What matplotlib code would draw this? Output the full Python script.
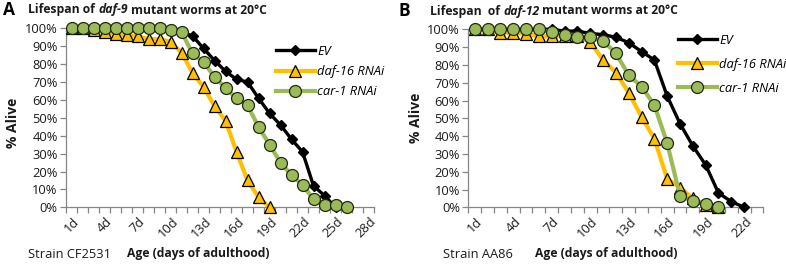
import numpy as np
import matplotlib
matplotlib.use("Agg")
import matplotlib.pyplot as plt
from matplotlib.lines import Line2D

FONT = "Open Sans"
plt.rcParams['font.family'] = [FONT, 'DejaVu Sans']

# ---------------- data ----------------
ev_a = [100, 100, 100, 100, 100, 100, 100, 100, 100, 99, 98, 95.7, 88.8, 82, 76, 71.5, 70, 61,
        52.5, 46, 38, 31, 12, 6.5, 0]
daf16_a = [100, 100, 99, 97.8, 96.8, 96, 95.7, 93.9, 94, 92.5, 86.4, 75.2, 67.2, 56.6, 48.4, 31,
           15, 5.6, 0]
car1_a = [100, 100, 100, 100, 100, 100, 100, 100, 100, 99, 98, 86, 81, 73, 66.5, 61, 57, 45, 35,
          25, 18, 12.5, 4.5, 1.5, 1.5, 0]

ev_b = [100, 100, 100, 100, 100, 100, 100, 99, 99, 97.7, 97, 95.5, 92.5, 87.5, 82.8, 62.5, 47,
        34.5, 23.8, 8, 3.2, 0]
daf16_b = [100, 100, 98, 98, 97.5, 96, 96, 96, 96, 93, 82.8, 75.7, 64.4, 50.9, 38.5, 16, 11, 5,
           1.5, 0]
car1_b = [100, 100, 100, 100, 100, 100, 98.3, 96.8, 95.5, 95.5, 93.6, 86.5, 74.3, 67.8, 57.5, 36,
          6.5, 3.5, 2, 0]

n_cat_a = 28
n_cat_b = 23
label_days_a = [1, 4, 7, 10, 13, 16, 19, 22, 25, 28]
label_days_b = [1, 4, 7, 10, 13, 16, 19, 22]
y_ticks = [0, 10, 20, 30, 40, 50, 60, 70, 80, 90, 100]
series_names = ["EV", "daf-16 RNAi", "car-1 RNAi"]

# ---------------- style ----------------
W, H = 786, 265
C_EV = "#000000"
C_DAF_LINE = "#FFC000"
C_DAF_FILL = "#FFC000"
C_CAR_LINE = "#9BBB59"
C_CAR_FILL = "#9BBB59"
AX_COL = "#868686"
TXT = "#1a1a1a"

fig = plt.figure(figsize=(W / 100, H / 100), dpi=100)


def px_axes(l, t, r, b):
    return fig.add_axes([l / W, 1 - b / H, (r - l) / W, (b - t) / H])


def draw_panel(ax, ev, daf, car, ncat, label_days):
    ax.set_xlim(0.5, ncat + 0.5)
    ax.set_ylim(0, 100)
    x_ev = np.arange(1, len(ev) + 1)
    x_daf = np.arange(1, len(daf) + 1)
    x_car = np.arange(1, len(car) + 1)
    ax.plot(x_ev, ev, color=C_EV, lw=2.4, marker='D', ms=5.4, mfc=C_EV, mec=C_EV,
            clip_on=False, zorder=3)
    ax.plot(x_daf, daf, color=C_DAF_LINE, lw=3.0, marker='^', ms=8.5, mfc=C_DAF_FILL,
            mec='black', mew=0.9, clip_on=False, zorder=4)
    ax.plot(x_car, car, color=C_CAR_LINE, lw=3.0, marker='o', ms=8.6, mfc=C_CAR_FILL,
            mec='#1f2a10', mew=0.9, clip_on=False, zorder=5)
    for s in ['top', 'right']:
        ax.spines[s].set_visible(False)
    for s in ['left', 'bottom']:
        ax.spines[s].set_color(AX_COL)
        ax.spines[s].set_linewidth(0.9)
    ax.set_yticks(y_ticks)
    ax.set_yticklabels([f"{v}%" for v in y_ticks], fontsize=9.3, color=TXT)
    ax.tick_params(axis='y', length=4, color=AX_COL, width=0.9, pad=2)
    ax.set_xticks(np.arange(0.5, ncat + 0.51, 1))
    ax.set_xticklabels([])
    ax.tick_params(axis='x', length=4, color=AX_COL, width=0.9, direction='out')
    ax.patch.set_alpha(0)
    # category labels
    for d in label_days:
        ax.annotate(f"{d}d", xy=(d, 0), xycoords='data', xytext=(4, -9),
                    textcoords='offset points', rotation=45, rotation_mode='anchor',
                    ha='right', va='center', fontsize=9.3, color=TXT)
    handles = [
        Line2D([], [], color=C_EV, lw=2.4, marker='D', ms=5.4, mfc=C_EV, mec=C_EV),
        Line2D([], [], color=C_DAF_LINE, lw=3.0, marker='^', ms=8.5, mfc=C_DAF_FILL,
               mec='black', mew=0.9),
        Line2D([], [], color=C_CAR_LINE, lw=3.0, marker='o', ms=8.6, mfc=C_CAR_FILL,
               mec='#1f2a10', mew=0.9),
    ]
    return handles


def rich_text(x_px, y_px, segments, size):
    """Draw consecutive text segments (text, style, weight) in figure pixel coords."""
    r = fig.canvas.get_renderer()
    x = x_px
    for txt, style, weight in segments:
        if txt == " ":
            t1 = fig.text(0, 0, "x x", fontsize=size, fontweight=weight)
            t2 = fig.text(0, 0, "xx", fontsize=size, fontweight=weight)
            x += t1.get_window_extent(r).width - t2.get_window_extent(r).width
            t1.remove(); t2.remove()
            continue
        t = fig.text(x / W, 1 - y_px / H, txt, fontsize=size, fontstyle=style,
                     fontweight=weight, ha='left', va='center', color=TXT)
        x += t.get_window_extent(r).width


# Panel A
axA = px_axes(66, 28.3, 374, 207.3)
hA = draw_panel(axA, ev_a, daf16_a, car1_a, n_cat_a, label_days_a)
axA.legend(hA, series_names, loc='upper left', bbox_to_anchor=(276 / W, 1 - 45 / H),
           bbox_transform=fig.transFigure, frameon=False, handlelength=3.0,
           handletextpad=0.2, labelspacing=0.55, borderaxespad=0, borderpad=0,
           prop={'family': FONT, 'style': 'italic', 'size': 9.3})

# Panel B
axB = px_axes(468.3, 29.3, 763.4, 207.3)
hB = draw_panel(axB, ev_b, daf16_b, car1_b, n_cat_b, label_days_b)
axB.legend(hB, series_names, loc='upper left', bbox_to_anchor=(678 / W, 1 - 34 / H),
           bbox_transform=fig.transFigure, frameon=False, handlelength=3.0,
           handletextpad=0.2, labelspacing=0.85, borderaxespad=0, borderpad=0,
           prop={'family': FONT, 'style': 'italic', 'size': 9.3})

# Panel letters and titles
fig.text(3 / W, 1 - 10 / H, "A", fontsize=12.5, fontweight='bold', ha='left', va='center')
fig.text(398 / W, 1 - 11 / H, "B", fontsize=12.5, fontweight='bold', ha='left', va='center')
rich_text(28, 10, [("Lifespan of", 'normal', 'bold'), (" ", 'normal', 'bold'),
                   ("daf-9", 'italic', 'bold'), (" ", 'normal', 'bold'),
                   ("mutant worms at 20°C", 'normal', 'bold')], 8.7)
rich_text(430, 11, [("Lifespan  of", 'normal', 'bold'), (" ", 'normal', 'bold'),
                    ("daf-12", 'italic', 'bold'), (" ", 'normal', 'bold'),
                    ("mutant worms at 20°C", 'normal', 'bold')], 8.7)

# y labels
fig.text(13 / W, 1 - 123 / H, "% Alive", rotation=90, fontsize=10, fontweight='bold',
         ha='center', va='center', color=TXT)
fig.text(416 / W, 1 - 118 / H, "% Alive", rotation=90, fontsize=10, fontweight='bold',
         ha='center', va='center', color=TXT)

# bottom texts
fig.text(28 / W, 1 - 254 / H, "Strain CF2531", fontsize=9.3, ha='left', va='center', color=TXT)
fig.text(127 / W, 1 - 254 / H, "Age (days of adulthood)", fontsize=8.7, fontweight='bold',
         ha='left', va='center', color=TXT)
fig.text(443 / W, 1 - 254 / H, "Strain AA86", fontsize=9.3, ha='left', va='center', color=TXT)
fig.text(535 / W, 1 - 254 / H, "Age (days of adulthood)", fontsize=8.7, fontweight='bold',
         ha='left', va='center', color=TXT)

fig.savefig("out.png", dpi=100)
